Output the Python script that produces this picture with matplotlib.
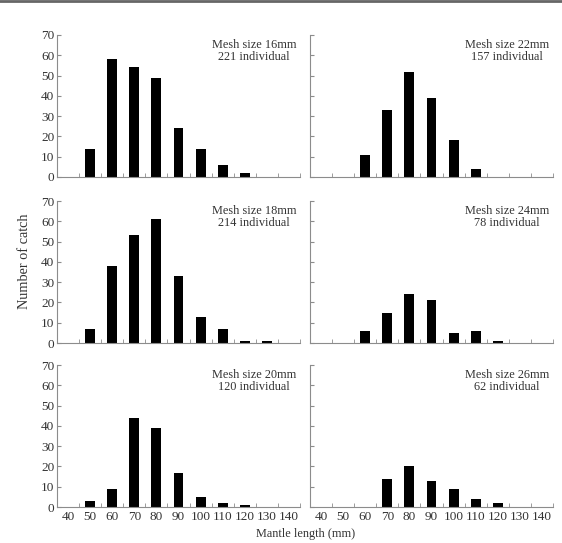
import numpy as np
import matplotlib
matplotlib.use('Agg')
import matplotlib.pyplot as plt

plt.rcParams['font.family'] = 'Liberation Serif'

# mantle length classes (mm)
lengths = [40, 50, 60, 70, 80, 90, 100, 110, 120, 130, 140]

mesh16 = [0, 14, 58, 54, 49, 24, 14, 6, 2, 0, 0]
mesh18 = [0, 7, 38, 53, 61, 33, 13, 7, 1, 1, 0]
mesh20 = [0, 3, 9, 44, 39, 17, 5, 2, 1, 0, 0]
mesh22 = [0, 0, 11, 33, 52, 39, 18, 4, 0, 0, 0]
mesh24 = [0, 0, 6, 15, 24, 21, 5, 6, 1, 0, 0]
mesh26 = [0, 0, 0, 14, 20, 13, 9, 4, 2, 0, 0]

labels = ["Mesh size 16mm\n221 individual", "Mesh size 22mm\n157 individual",
          "Mesh size 18mm\n214 individual", "Mesh size 24mm\n78 individual",
          "Mesh size 20mm\n120 individual", "Mesh size 26mm\n62 individual"]
series = [mesh16, mesh22, mesh18, mesh24, mesh20, mesh26]

fig = plt.figure(figsize=(5.62, 5.43), dpi=100)
W, H = 562, 543
lefts = [57, 310]
tops = [35, 201, 365]
aw, ah = 243, 142
txt = '#333333'

for i in range(6):
    r, c = divmod(i, 2)
    ax = fig.add_axes([lefts[c] / W, 1 - (tops[r] + ah) / H, aw / W, ah / H])
    ax.bar(lengths, series[i], width=4.5, color='black')
    ax.set_xlim(35, 145)
    ax.set_ylim(0, 70)
    for s in ['top', 'right']:
        ax.spines[s].set_visible(False)
    for s in ['left', 'bottom']:
        ax.spines[s].set_color('0.55')
        ax.spines[s].set_linewidth(0.8)
    ax.set_yticks(range(0, 71, 10))
    ax.set_xticks(lengths)
    ax.set_xticks(np.arange(45, 146, 10), minor=True)
    ax.tick_params(axis='x', which='major', length=0, labelsize=9.5, pad=3, labelcolor=txt)
    ax.tick_params(axis='x', which='minor', direction='in', length=3, color='0.55')
    ax.tick_params(axis='y', direction='in', length=3, color='0.55', labelsize=9.5, pad=2,
                   labelcolor=txt)
    if c == 1:
        ax.set_yticklabels([])
    if r < 2:
        ax.set_xticklabels([])
    ax.text(0.81, 0.975, labels[i], transform=ax.transAxes, ha='center', va='top',
            fontsize=8.8, color=txt, linespacing=1.1)

fig.text(25 / W, 1 - 261 / H, 'Number of catch', rotation=90, ha='center', va='center',
         fontsize=10.3, color=txt)
fig.text(306 / W, 1 - 534 / H, 'Mantle length (mm)', ha='center', va='center',
         fontsize=8.8, color=txt)
fig.add_artist(plt.Line2D([0, 1], [1 - 0.5 / H, 1 - 0.5 / H], color='0.4', linewidth=2))

fig.savefig('out.png', dpi=100)
